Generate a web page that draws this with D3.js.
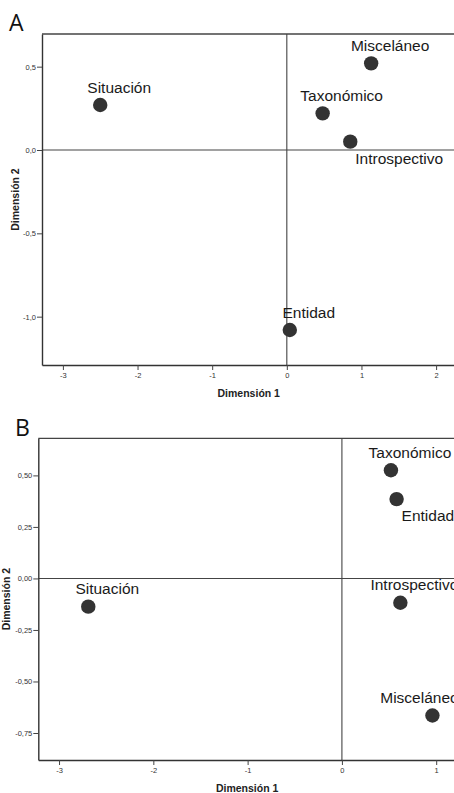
<!DOCTYPE html>
<html>
<head>
<meta charset="utf-8">
<script src="https://cdn.jsdelivr.net/npm/d3@7"></script>
<style>
  html, body { margin: 0; padding: 0; background: #fff; }
  svg { display: block; }
</style>
</head>
<body>
<svg id="chart" width="454" height="793"></svg>
<script>
// ---- Data ----
const panelA_labels = ["Situación", "Misceláneo", "Taxonómico", "Introspectivo", "Entidad"];
const panelA_dim1   = [-2.50, 1.13, 0.48, 0.85, 0.04];
const panelA_dim2   = [0.27, 0.52, 0.22, 0.05, -1.08];
const panelA_xTicks = [-3, -2, -1, 0, 1, 2];
const panelA_yTicks = [0.5, 0.0, -0.5, -1.0];

const panelB_labels = ["Taxonómico", "Entidad", "Introspectivo", "Situación", "Misceláneo"];
const panelB_dim1   = [0.52, 0.58, 0.62, -2.69, 0.96];
const panelB_dim2   = [0.525, 0.385, -0.118, -0.137, -0.665];
const panelB_xTicks = [-3, -2, -1, 0, 1];
const panelB_yTicks = [0.50, 0.25, 0.00, -0.25, -0.50, -0.75];

// label placement keywords (layout only)
const panelA_place = ["above", "above", "above", "below", "above"];
const panelB_place = ["above", "below", "aboveNear", "above", "aboveLeft"];

const placeStyle = {
  above:     { dx: 19,  dy: -12.5, anchor: "middle" },
  aboveNear: { dx: 14,  dy: -12.5, anchor: "middle" },
  aboveLeft: { dx: -13, dy: -12.5, anchor: "middle" },
  below:     { dx: 5,   dy: 22,    anchor: "start" }
};

const svg = d3.select("#chart");
const hyphen = s => s.replace(/\u2212/g, "-");
const commaFmt = (digits) => (v) => hyphen(d3.format("." + digits + "f")(v)).replace(".", ",");
const intFmt = v => hyphen(d3.format("d")(v));

function drawPanel(cfg) {
  const x = d3.scaleLinear().domain(cfg.xDomain).range([cfg.left, cfg.right]);
  const y = d3.scaleLinear().domain(cfg.yDomain).range([cfg.bottom, cfg.top]);
  const g = svg.append("g");

  // panel letter
  g.append("text")
    .attr("x", cfg.letterX).attr("y", cfg.letterY)
    .attr("font-family", "'Open Sans', sans-serif")
    .attr("font-size", 23).attr("fill", "#111")
    .text(cfg.letter);

  // frame top
  g.append("line")
    .attr("x1", cfg.left).attr("x2", cfg.right)
    .attr("y1", cfg.top).attr("y2", cfg.top)
    .attr("stroke", "#444").attr("stroke-width", 1.3);

  // reference lines at 0
  g.append("line")
    .attr("x1", x(0)).attr("x2", x(0))
    .attr("y1", cfg.top).attr("y2", cfg.bottom)
    .attr("stroke", "#444").attr("stroke-width", 1.1);
  g.append("line")
    .attr("x1", cfg.left).attr("x2", cfg.right)
    .attr("y1", y(0)).attr("y2", y(0))
    .attr("stroke", "#444").attr("stroke-width", 1.1);

  // axes
  const xAxis = d3.axisBottom(x).tickValues(cfg.xTicks).tickSize(5).tickSizeOuter(0).tickPadding(3)
    .tickFormat(intFmt);
  const yAxis = d3.axisLeft(y).tickValues(cfg.yTicks).tickSize(5).tickSizeOuter(0).tickPadding(1)
    .tickFormat(commaFmt(cfg.yDigits));

  const gx = g.append("g").attr("transform", `translate(0,${cfg.bottom})`).call(xAxis);
  const gy = g.append("g").attr("transform", `translate(${cfg.left},0)`).call(yAxis);
  [gx, gy].forEach(a => {
    a.select(".domain").attr("stroke", "#333").attr("stroke-width", 1.4);
    a.selectAll(".tick line").attr("stroke", "#444").attr("stroke-width", 1);
    a.selectAll(".tick text")
      .attr("font-family", "'Liberation Sans', Arial, sans-serif")
      .attr("font-size", 7.5).attr("fill", "#333");
  });

  // axis titles
  g.append("text")
    .attr("x", (cfg.left + cfg.right) / 2).attr("y", cfg.bottom + 31.5)
    .attr("text-anchor", "middle")
    .attr("font-family", "'Liberation Sans', Arial, sans-serif")
    .attr("font-weight", "bold").attr("font-size", 10.5).attr("fill", "#222")
    .text("Dimensión 1");
  g.append("text")
    .attr("transform", `translate(${cfg.yTitleX},${(cfg.top + cfg.bottom) / 2}) rotate(-90)`)
    .attr("text-anchor", "middle")
    .attr("font-family", "'Liberation Sans', Arial, sans-serif")
    .attr("font-weight", "bold").attr("font-size", 10.5).attr("fill", "#222")
    .text("Dimensión 2");

  const pts = cfg.labels.map((l, i) => ({ label: l, d1: cfg.dim1[i], d2: cfg.dim2[i], place: cfg.place[i] }));

  g.selectAll("circle.pt").data(pts).join("circle")
    .attr("class", "pt")
    .attr("cx", d => x(d.d1)).attr("cy", d => y(d.d2))
    .attr("r", 7.2).attr("fill", "#333");

  g.selectAll("text.lbl").data(pts).join("text")
    .attr("class", "lbl")
    .attr("x", d => x(d.d1) + placeStyle[d.place].dx)
    .attr("y", d => y(d.d2) + placeStyle[d.place].dy)
    .attr("text-anchor", d => placeStyle[d.place].anchor)
    .attr("font-family", "'Liberation Sans', Arial, sans-serif")
    .attr("font-size", 15.5).attr("fill", "#1a1a1a")
    .text(d => d.label);
}

drawPanel({
  letter: "A", letterX: 9, letterY: 31,
  labels: panelA_labels, dim1: panelA_dim1, dim2: panelA_dim2, place: panelA_place,
  xTicks: panelA_xTicks, yTicks: panelA_yTicks, yDigits: 1,
  xDomain: [-3.28, 2.26], yDomain: [-1.29, 0.696],
  left: 42, right: 455.5, top: 34, bottom: 365, yTitleX: 19
});

drawPanel({
  letter: "B", letterX: 15, letterY: 436,
  labels: panelB_labels, dim1: panelB_dim1, dim2: panelB_dim2, place: panelB_place,
  xTicks: panelB_xTicks, yTicks: panelB_yTicks, yDigits: 2,
  xDomain: [-3.22, 1.21], yDomain: [-0.881, 0.68],
  left: 38.3, right: 456, top: 438.3, bottom: 760, yTitleX: 10
});
</script>
</body>
</html>
